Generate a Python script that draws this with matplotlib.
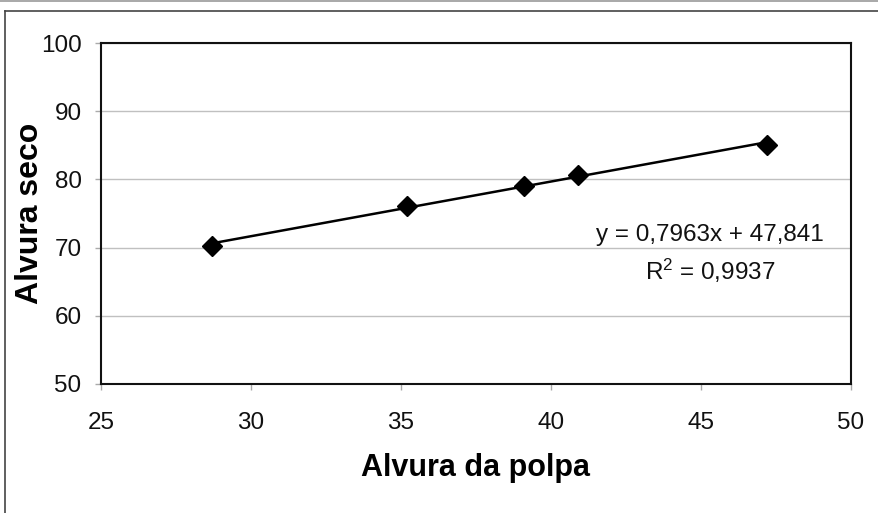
import numpy as np
import matplotlib
matplotlib.use('Agg')
import matplotlib.pyplot as plt
from matplotlib.lines import Line2D
from matplotlib.transforms import Affine2D

# data
alvura_polpa = [28.7, 35.2, 39.1, 40.9, 47.2]
alvura_seco = [70.3, 76.1, 79.1, 80.7, 85.1]
eq_text = 'y = 0,7963x + 47,841'
r2_text = '$\\mathregular{R^2}$ = 0,9937'
x_ticks = [25, 30, 35, 40, 45, 50]
y_ticks = [50, 60, 70, 80, 90, 100]

plt.rcParams['font.family'] = ['Liberation Sans', 'DejaVu Sans']

W, H = 879, 513
fig = plt.figure(figsize=(W / 100, H / 100), dpi=100)
ax = fig.add_axes([101 / W, 1 - 384 / H, 750 / W, 341 / H])
px = Affine2D().scale(1, -1).translate(0, H)  # pixel coords, origin top-left

# trend line
coef = np.polyfit(alvura_polpa, alvura_seco, 1)
xs = np.array([min(alvura_polpa), max(alvura_polpa)])
ax.plot(xs, np.polyval(coef, xs), color='black', lw=1.8, zorder=3)
ax.plot(alvura_polpa, alvura_seco, 'D', color='black', ms=10.5, zorder=4)

ax.set_xlim(25, 50)
ax.set_ylim(50, 100)
ax.set_xticks(x_ticks)
ax.set_yticks(y_ticks)
ax.grid(axis='y', color='#c0c0c0', lw=1.0)
ax.set_axisbelow(True)
for s in ax.spines.values():
    s.set_linewidth(1.5)
    s.set_color('#111111')
ax.tick_params(direction='out', length=4, width=1, color='#aaaaaa',
               labelsize=17.5, labelcolor='#111111', pad=16)
ax.tick_params(axis='y', pad=10)

ax.set_xlabel('Alvura da polpa', fontsize=22, fontweight='bold', va='center')
ax.set_ylabel('Alvura seco', fontsize=23, fontweight='bold', va='center')
ax.xaxis.set_label_coords(0.5, (384 - 468) / 341)
ax.yaxis.set_label_coords((30 - 101) / 750, 0.5)

ax.text(710, 235, eq_text, transform=px, fontsize=17.5, ha='center', va='center', color='#111111')
ax.text(710, 271, r2_text, transform=px, fontsize=17.5, ha='center', va='center', color='#111111')

# outer frame like the source screenshot
fig.add_artist(Line2D([0, W], [1, 1], color='#999999', lw=1.2, transform=px))
fig.add_artist(Line2D([5, 5], [10.5, H], color='#444444', lw=1.2, transform=px))
fig.add_artist(Line2D([5, W], [10.5, 10.5], color='#444444', lw=1.2, transform=px))

fig.savefig('out.png', dpi=100)
